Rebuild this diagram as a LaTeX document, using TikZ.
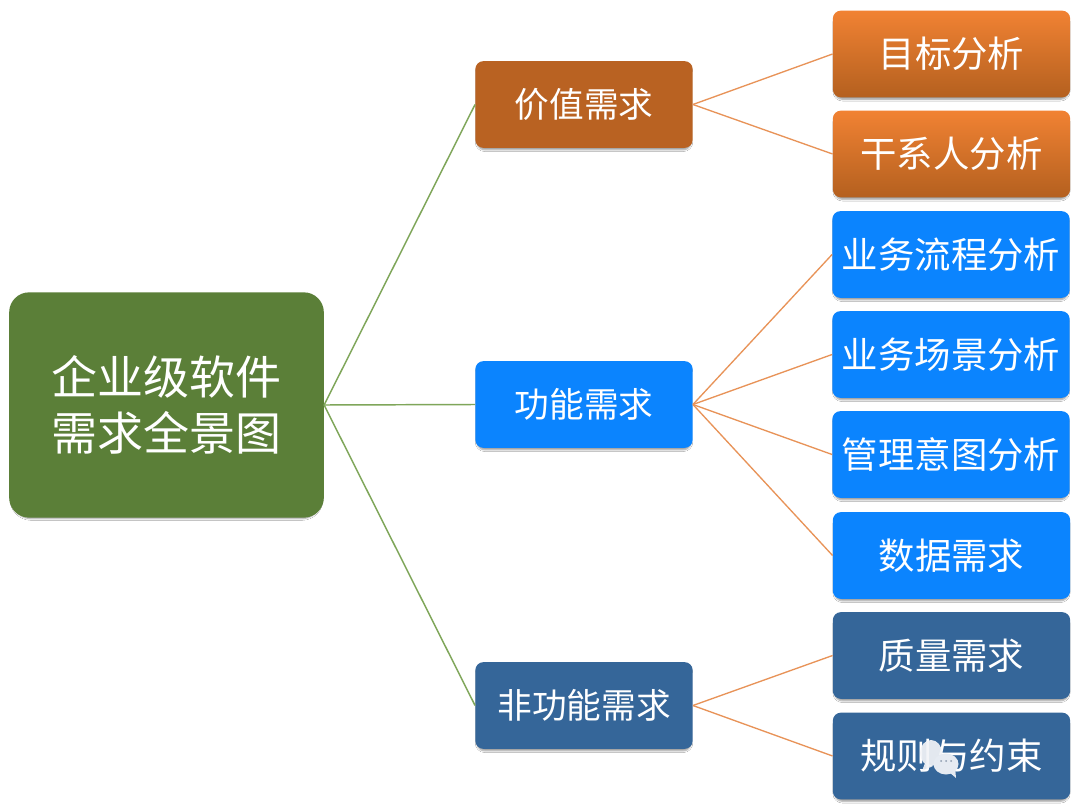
\documentclass[tikz,border=0pt]{standalone}
\usepackage{fontspec}
\setmainfont{Noto Sans CJK SC}
\usetikzlibrary{shadows.blur}
\definecolor{rootc}{HTML}{5B7F38}
\definecolor{orangec}{HTML}{B96222}
\definecolor{orangetop}{HTML}{F18233}
\definecolor{orangebot}{HTML}{B4601F}
\definecolor{bluec}{HTML}{0B84FE}
\definecolor{navyc}{HTML}{356699}
\definecolor{greenl}{HTML}{7FA65A}
\definecolor{orangel}{HTML}{E89358}
\definecolor{bubblea}{HTML}{F2F4F7}
\definecolor{bubbleb}{HTML}{E6EBF2}
\definecolor{bubbled}{HTML}{8C9BAE}
\tikzset{
  x=0.75pt,y=-0.75pt,
  box/.style={rounded corners=6pt,minimum width=163pt,minimum height=65pt,inner sep=0pt,text=white,align=center,font=\fontsize{26}{30}\selectfont,blur shadow={shadow xshift=0pt,shadow yshift=-2pt,shadow scale=0.985,shadow blur steps=5,shadow blur radius=1.3pt,shadow opacity=40}},
  leaf/.style={box,minimum width=178pt,font=\fontsize{27.3}{31}\selectfont},
  orangeleaf/.style={leaf,top color=orangetop,bottom color=orangebot},
  blueleaf/.style={leaf,fill=bluec},
  navyleaf/.style={leaf,fill=navyc},
  link1/.style={draw=greenl,line width=1.1pt},
  link2/.style={draw=orangel,line width=1pt},
}
\begin{document}
\begin{tikzpicture}
\useasboundingbox (0,0) rectangle (1080,809);
\fill[white] (0,0) rectangle (1080,809);
\node[box,fill=rootc,minimum width=236pt,minimum height=169pt,rounded corners=15pt,font=\fontsize{34.5}{41.5}\selectfont] (root) at (166.5,405) {企业级软件\\需求全景图};
\node[box,fill=orangec] (v) at (584,104.5) {价值需求};
\node[box,fill=bluec] (f) at (584,404.5) {功能需求};
\node[box,fill=navyc] (n) at (584,705.5) {非功能需求};
\node[orangeleaf] (a1) at (951.5,54) {目标分析};
\node[orangeleaf] (a2) at (951.5,154) {干系人分析};
\node[blueleaf] (b1) at (951,254.5) {业务流程分析};
\node[blueleaf] (b2) at (951,354.5) {业务场景分析};
\node[blueleaf] (b3) at (951,454.5) {管理意图分析};
\node[blueleaf] (b4) at (951.5,555.5) {数据需求};
\node[navyleaf] (c1) at (951.5,655.5) {质量需求};
\node[navyleaf] (c2) at (951.5,756) {规则与约束};
\foreach \t in {v,f,n} \draw[link1] (root.east) -- (\t.west);
\foreach \t in {a1,a2} \draw[link2] (v.east) -- (\t.west);
\foreach \t in {b1,b2,b3,b4} \draw[link2] (f.east) -- (\t.west);
\foreach \t in {c1,c2} \draw[link2] (n.east) -- (\t.west);
% watermark bubbles
\fill[bubblea,opacity=.92] (931,753) ellipse (11 and 13);
\fill[bubblea,opacity=.92] (925,763) -- (922,771) -- (933,766) -- cycle;
\fill[bubbleb] (946,764) ellipse (12.5 and 10.5);
\fill[bubbleb] (949,772) -- (956,778) -- (955,767) -- cycle;
\fill[bubbled] (941,761) circle (1) (946,761) circle (1) (951,761) circle (1);
\end{tikzpicture}
\end{document}
